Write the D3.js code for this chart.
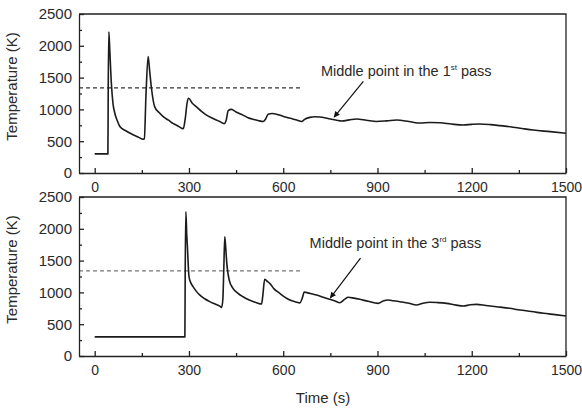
<!DOCTYPE html>
<html>
<head>
<meta charset="utf-8">
<script src="https://cdn.jsdelivr.net/npm/d3@7"></script>
<style>
  body { margin: 0; background: #fff; }
  svg { display: block; font-family: "Liberation Sans", Arial, sans-serif; }
  .axis path, .axis line { stroke: #222; stroke-width: 1.3; }
  .axis text { fill: #2a2a2a; font-size: 15px; }
  .x-axis text { font-size: 14px; }
</style>
</head>
<body>
<svg id="chart"></svg>
<script>
// Time (s) and temperature (K) at the middle point
var pass1Time = [0, 42, 43, 45, 48, 53, 58, 64, 72, 80, 100, 122, 140, 154, 158, 163, 170, 175, 180, 191, 205, 218, 235, 249, 265, 276, 282, 288, 294, 299, 310, 324, 340, 356, 375, 398, 412, 418, 425, 435, 450, 472, 488, 504, 520, 536, 544, 552, 565, 579, 595, 610, 630, 645, 658, 670, 685, 700, 716, 735, 754, 770, 786, 810, 833, 865, 897, 930, 961, 1000, 1035, 1067, 1099, 1135, 1173, 1200, 1226, 1260, 1290, 1322, 1360, 1396, 1450, 1500];
var pass1Temp = [300, 300, 1300, 2220, 1930, 1410, 1100, 940, 820, 730, 660, 600, 560, 530, 540, 1200, 1830, 1600, 1360, 1040, 950, 885, 830, 780, 740, 705, 695, 850, 1100, 1175, 1100, 1040, 970, 910, 860, 810, 775, 820, 980, 1000, 960, 910, 870, 845, 825, 810, 850, 925, 935, 925, 900, 875, 850, 830, 810, 850, 875, 885, 880, 865, 845, 830, 818, 835, 850, 830, 810, 820, 833, 810, 785, 795, 790, 770, 755, 765, 770, 760, 745, 728, 700, 675, 650, 625];

var pass3Time = [0, 287, 288, 290, 293, 295, 298, 300, 306, 313, 323, 334, 350, 366, 385, 398, 404, 408, 411, 414, 417, 420, 428, 440, 455, 472, 492, 515, 531, 535, 541, 550, 557, 570, 589, 605, 621, 640, 653, 660, 667, 672, 690, 706, 727, 748, 765, 780, 795, 807, 825, 844, 870, 902, 918, 934, 950, 971, 1000, 1024, 1045, 1067, 1090, 1120, 1150, 1173, 1195, 1215, 1245, 1279, 1320, 1354, 1390, 1428, 1465, 1500];
var pass3Temp = [300, 300, 1300, 2270, 1900, 1720, 1400, 1250, 1150, 1090, 1020, 960, 900, 855, 815, 785, 765, 900, 1400, 1876, 1700, 1480, 1195, 1064, 990, 932, 880, 838, 817, 950, 1206, 1170, 1143, 1060, 986, 925, 880, 850, 835, 900, 1005, 1000, 980, 959, 925, 891, 865, 838, 890, 923, 910, 891, 860, 828, 865, 880, 870, 854, 830, 802, 830, 844, 840, 828, 800, 786, 805, 812, 795, 775, 750, 723, 700, 671, 650, 629];

var xTicks = [0, 300, 600, 900, 1200, 1500];
var xMinor = [150, 450, 750, 1050, 1350];
var yTicks = [0, 500, 1000, 1500, 2000, 2500];
var yMinor = [250, 750, 1250, 1750, 2250];

var referenceTemp = 1340;   // dashed line
var referenceEnd = 655;     // dashed line ends here (s)

var panels = [
    { time: pass1Time, temp: pass1Temp, top: 14, bottom: 173, dash: "#333",
      label: "1", sup: "st", textAt: [720, 1520], arrowFrom: [855, 1440], arrowTo: [762, 880] },
    { time: pass3Time, temp: pass3Temp, top: 197, bottom: 356, dash: "#777",
      label: "3", sup: "rd", textAt: [684, 1700], arrowFrom: [846, 1540], arrowTo: [750, 915] }
];

var width = 582, height = 412;
var left = 79, right = 566;

var svg = d3.select("#chart")
    .attr("width", width)
    .attr("height", height);

svg.append("defs").append("marker")
    .attr("id", "head")
    .attr("viewBox", "0 0 10 10")
    .attr("refX", 9)
    .attr("refY", 5)
    .attr("markerWidth", 7)
    .attr("markerHeight", 6)
    .attr("markerUnits", "userSpaceOnUse")
    .attr("orient", "auto")
    .append("path")
    .attr("d", "M0,0L10,5L0,10Z")
    .attr("fill", "#111");

var x = d3.scaleLinear()
    .domain([-50, 1500])
    .range([left, right]);

var fmt = d3.format("d");

panels.forEach(function(p) {
    var y = d3.scaleLinear()
        .domain([0, 2500])
        .range([p.bottom, p.top]);

    var g = svg.append("g");

    // dashed reference level
    g.append("line")
        .attr("x1", x(-50))
        .attr("x2", x(referenceEnd))
        .attr("y1", y(referenceTemp))
        .attr("y2", y(referenceTemp))
        .attr("stroke", p.dash)
        .attr("stroke-width", 1.2)
        .attr("stroke-dasharray", "4,3");

    // temperature curve
    var line = d3.line()
        .curve(d3.curveMonotoneX)
        .x(function(d) { return x(d[0]); })
        .y(function(d) { return y(d[1]); });

    g.append("path")
        .datum(d3.zip(p.time, p.temp))
        .attr("d", line)
        .attr("fill", "none")
        .attr("stroke", "#1b1b1b")
        .attr("stroke-width", 1.6)
        .attr("stroke-linejoin", "round");

    // frame top and right
    g.append("path")
        .attr("d", "M" + left + "," + p.top + "H" + right + "V" + p.bottom)
        .attr("fill", "none")
        .attr("stroke", "#222")
        .attr("stroke-width", 1.3);

    // axes, ticks pointing inward
    g.append("g")
        .attr("class", "axis x-axis")
        .attr("transform", "translate(0," + p.bottom + ")")
        .call(d3.axisBottom(x).tickValues(xTicks).tickFormat(fmt).tickSizeInner(-5).tickSizeOuter(0).tickPadding(9));

    g.append("g")
        .attr("class", "axis")
        .attr("transform", "translate(0," + p.bottom + ")")
        .call(d3.axisBottom(x).tickValues(xMinor).tickSizeInner(-3).tickSizeOuter(0).tickFormat(""))
        .select(".domain").remove();

    g.append("g")
        .attr("class", "axis")
        .attr("transform", "translate(" + left + ",0)")
        .call(d3.axisLeft(y).tickValues(yTicks).tickFormat(fmt).tickSizeInner(-5).tickSizeOuter(0).tickPadding(7));

    g.append("g")
        .attr("class", "axis")
        .attr("transform", "translate(" + left + ",0)")
        .call(d3.axisLeft(y).tickValues(yMinor).tickSizeInner(-3).tickSizeOuter(0).tickFormat(""))
        .select(".domain").remove();

    // y label
    g.append("text")
        .attr("transform", "translate(17," + ((p.top + p.bottom) / 2 - 7) + ") rotate(-90)")
        .style("text-anchor", "middle")
        .style("font-size", "15px")
        .attr("fill", "#2a2a2a")
        .text("Temperature (K)");

    // annotation
    var note = g.append("text")
        .attr("x", x(p.textAt[0]))
        .attr("y", y(p.textAt[1]))
        .style("font-size", "14.5px")
        .attr("fill", "#2a2a2a");
    note.append("tspan").text("Middle point in the " + p.label);
    note.append("tspan")
        .attr("dy", "-6")
        .style("font-size", "8px")
        .text(p.sup);
    note.append("tspan")
        .attr("dy", "6")
        .text(" pass");

    g.append("line")
        .attr("x1", x(p.arrowFrom[0]))
        .attr("y1", y(p.arrowFrom[1]))
        .attr("x2", x(p.arrowTo[0]))
        .attr("y2", y(p.arrowTo[1]))
        .attr("stroke", "#111")
        .attr("stroke-width", 1.2)
        .attr("marker-end", "url(#head)");
});

// x label
svg.append("text")
    .attr("x", 323)
    .attr("y", 403)
    .style("text-anchor", "middle")
    .style("font-size", "15px")
    .attr("fill", "#2a2a2a")
    .text("Time (s)");
</script>
</body>
</html>
